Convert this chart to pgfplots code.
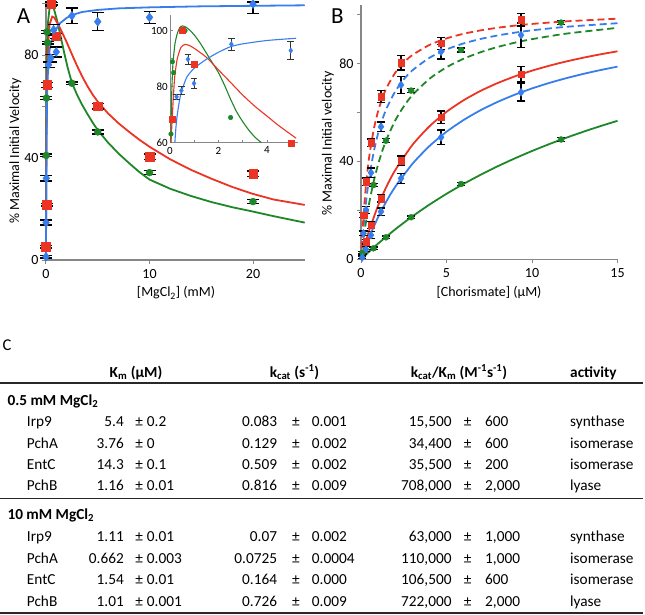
\documentclass[border=0pt]{standalone}
\usepackage{fontspec}
\setmainfont{Carlito}
\usepackage{pgfplots}
\pgfplotsset{compat=1.18}
\definecolor{cred}{RGB}{236,52,36}
\definecolor{cgreen}{RGB}{30,135,40}
\definecolor{cblue}{RGB}{55,125,235}
\definecolor{axgray}{RGB}{135,135,135}
\definecolor{rulec}{RGB}{40,40,40}

\pgfplotsset{
  panel/.style={
    scale only axis, axis x line*=bottom, axis y line*=left,
    axis line style={draw=axgray, line width=1.3pt},
    tick style={draw=axgray, line width=1pt},
    major tick length=4pt, tick align=outside,
    tick label style={font=\fontsize{14}{16}\selectfont},
    /pgf/number format/assume math mode=true,
    clip=false,
  },
  ebA/.style={error bars/y dir=both, error bars/y explicit,
    error bars/error bar style={black, line width=1.4pt},
    error bars/error mark options={rotate=90, black, line width=1.4pt, mark size=6pt}},
  ebB/.style={error bars/y dir=both, error bars/y explicit,
    error bars/error bar style={black, line width=1.3pt},
    error bars/error mark options={rotate=90, black, line width=1.3pt, mark size=4.2pt}},
  ebI/.style={error bars/y dir=both, error bars/y explicit,
    error bars/error bar style={black!80, line width=0.8pt},
    error bars/error mark options={rotate=90, black!80, line width=0.8pt, mark size=3.3pt}},
}
\tikzset{tt/.style={font=\fontsize{15.3}{18}\selectfont, inner sep=0pt}}
\newcommand{\trow}[9]{%
 \node[tt, anchor=base west] at (26.7,-#1) {#2};
 \node[tt, anchor=base east] at (124,-#1) {#3};
 \node[tt, anchor=base] at (139.3,-#1) {±};
 \node[tt, anchor=base west] at (146.7,-#1) {#4};
 \node[tt, anchor=base east] at (277.3,-#1) {#5};
 \node[tt, anchor=base] at (296,-#1) {±};
 \node[tt, anchor=base west] at (311.7,-#1) {#6};
 \node[tt, anchor=base east] at (451.7,-#1) {#7};
 \node[tt, anchor=base] at (467.7,-#1) {±};
 \node[tt, anchor=base west] at (485,-#1) {#8};
 \node[tt, anchor=base west] at (570,-#1) {#9};
}

\begin{document}
\begin{tikzpicture}[x=1pt,y=1pt]
\useasboundingbox (0,0) rectangle (645,-614);

% ---------------- Panel A ----------------
\begin{axis}[panel, at={(46pt,-260pt)}, anchor=south west,
  width=258.75pt, height=258.8pt,
  xmin=0, xmax=25, ymin=0, ymax=101,
  xtick={0,10,20}, ytick={0,20,...,100}, yticklabels={0,,40,,80,},
  xticklabel style={yshift=-2pt}]
\addplot[cgreen, line width=1.8pt] coordinates {(0,0)(0.02,40)(0.05,65)(0.1,82)(0.2,93)(0.35,98.5)(0.55,99.8)(0.8,97.5)(1.1,93)(1.35,88.5)(1.75,81)(2.1,75)(2.5,69.2)(3,64.5)(3.5,60.5)(4,57)(4.5,53.7)(5,50.7)(6,45.8)(7,41.6)(8,37.9)(9,34.4)(10,31.4)(12,27.8)(14,25)(16,22.6)(18,20.6)(20,18.9)(22,17.1)(25,14.6)};
\addplot[cred, line width=1.8pt] coordinates {(0,0)(0.02,25)(0.05,50)(0.1,68)(0.2,84)(0.35,92)(0.6,95)(0.8,94.6)(1.1,92.5)(1.5,89.3)(2,85)(2.5,80.3)(3,75.8)(3.5,71.6)(4,67.9)(4.5,64.6)(5,61.8)(6,57.2)(7,53.4)(8,50.1)(9,47)(10,44.2)(12,39.3)(14,35.2)(16,31.7)(18,28.5)(20,25.8)(22,23.6)(25,21.5)};
\addplot[cblue, line width=1.8pt] coordinates {(0,0)(0.01,15)(0.03,32)(0.06,50)(0.1,62)(0.15,70)(0.22,76)(0.35,82)(0.5,85)(0.7,87.5)(1,90.2)(1.35,92.4)(2,94.5)(2.5,95.6)(3.5,96.8)(5,97.6)(7,98.2)(10,98.6)(15,99)(20,99.2)(25,99.4)};
\addplot[only marks, mark=*, cgreen, mark size=3.5pt, ebA] table[x=x, y=y, y error=e] {
x y e
0.02 40.8 0.5
0.04 63.2 0.5
0.1 89 0.5
0.15 84.8 0.5
0.5 100 0.5
0.62 100 0.5
2.5 69 0.5
5 50 0.8
10 34.1 0.8
20 22.8 0.8
};
\addplot[only marks, mark=square*, cred, mark size=4.3pt, ebA] table[x=x, y=y, y error=e] {
x y e
0 5.2 0.5
0.05 21.5 0.5
0.1 68.3 1
0.5 100 1
1 87.4 1
5 60 1
10 40.3 1
20 33.7 1
};
\addplot[only marks, mark=diamond*, cblue, mark size=4.5pt, ebA] table[x=x, y=y, y error plus=ep, y error minus=em] {
x y ep em
0 1.3 0.5 0.5
0.01 14.6 1 1
0.03 31.9 1 1
0.25 76.2 1 1
0.47 78.8 1.5 1.5
0.74 89.8 2 2
0.99 81.2 2 2
2.5 95.3 3 3
5 93 3.5 3.5
10 94.7 2.3 2.3
20 99.9 0.8 3.6
};
\end{axis}

% ---------------- Inset ----------------
\begin{axis}[scale only axis, at={(170pt,-142.7pt)}, anchor=south west,
  width=127.8pt, height=127.7pt,
  xmin=0, xmax=5.27, ymin=60, ymax=105.6,
  axis x line*=bottom, axis y line*=left,
  axis line style={draw=axgray, line width=0.9pt},
  tick style={draw=axgray, line width=0.7pt},
  major tick length=3pt, tick align=inside,
  xtick={0,1,...,5}, xticklabels={0,,2,,4,},
  ytick={60,70,...,100}, yticklabels={60,,80,,100},
  tick label style={font=\fontsize{11}{13}\selectfont, inner sep=2pt},
  xticklabel style={yshift=-2pt},
  /pgf/number format/assume math mode=true, clip=false]
\addplot[cgreen, line width=1.1pt, smooth, tension=0.4] coordinates {(0.03,60)(0.05,70)(0.08,80)(0.12,88)(0.2,95)(0.3,99)(0.4,101)(0.5,101.7)(0.65,101.3)(0.8,100.3)(1,98.5)(1.25,95.5)(1.5,92)(1.75,88.5)(2,85)(2.25,80.5)(2.5,75.5)(2.75,71)(3,67.5)(3.25,64.5)(3.5,62)(3.77,60)};
\addplot[cred, line width=1.1pt, smooth, tension=0.4] coordinates {(0.04,60)(0.07,65)(0.1,70)(0.15,78)(0.2,84)(0.3,90)(0.45,94)(0.62,95.1)(0.8,94.7)(1,93.7)(1.5,90.5)(2,86)(2.5,81.5)(3,77)(3.5,73)(4,69.5)(4.5,66)(5.2,61.6)};
\addplot[cblue, line width=1.1pt, smooth, tension=0.4] coordinates {(0.2,60)(0.25,66)(0.3,70)(0.4,75.5)(0.5,79)(0.7,83.5)(1,86.6)(1.5,89.8)(2,92.3)(2.5,94.3)(3,95.3)(4,96.5)(5.2,97.3)};
\addplot[only marks, mark=*, cgreen, mark size=2.3pt] coordinates {(0.04,63.1)(0.1,88.9)(0.15,85)(0.5,100)(0.62,100)(2.5,69)};
\addplot[only marks, mark=square*, cred, mark size=3pt] coordinates {(0.1,68.5)(0.5,100)(1,88)(5,60)};
\addplot[only marks, mark=diamond*, cblue, mark size=2.6pt, ebI] table[x=x, y=y, y error=e] {
x y e
0.27 76.4 0.8
0.47 78.6 1.5
0.74 89.8 1.8
0.99 81.2 1.8
2.53 95.2 2.2
4.98 92.9 3.2
};
\end{axis}

% ---------------- Panel B ----------------
\begin{axis}[panel, at={(361pt,-259.3pt)}, anchor=south west,
  width=256.5pt, height=254.3pt,
  xmin=0, xmax=15, ymin=0, ymax=104,
  xtick={0,5,10,15}, ytick={0,20,...,100}, yticklabels={0,,40,,80,},
  xticklabel style={yshift=-2pt}]
\addplot[cgreen, line width=1.8pt, smooth, tension=0.4] coordinates {(0,0)(0.5,3.3)(1,6.43)(2,12.25)(3,17.53)(4,22.36)(5,26.78)(6,30.84)(7,34.59)(8,38.07)(9,41.29)(10,44.29)(11,47.09)(12,49.71)(13,52.16)(14,54.47)(15,56.64)};
\addplot[cblue, line width=1.8pt, smooth, tension=0.4] coordinates {(0,0)(0.25,4.91)(0.5,9.38)(1,17.23)(1.5,23.9)(2,29.64)(3,38.99)(4,46.3)(5,52.17)(6,56.98)(7,61)(8,64.41)(9,67.34)(10,69.88)(11,72.11)(12,74.07)(13,75.82)(14,77.39)(15,78.8)};
\addplot[cred, line width=1.8pt, smooth, tension=0.4] coordinates {(0,0)(0.25,6.49)(0.5,12.24)(1,21.97)(1.5,29.89)(2,36.46)(3,46.72)(4,54.38)(5,60.32)(6,65.05)(7,68.91)(8,72.11)(9,74.83)(10,77.15)(11,79.15)(12,80.91)(13,82.45)(14,83.83)(15,85.06)};
\addplot[cgreen, line width=1.8pt, dash pattern=on 7pt off 4pt, smooth, tension=0.4] coordinates {(0,0)(0.1,5.81)(0.2,11.01)(0.3,15.69)(0.5,23.79)(0.75,32.07)(1,38.83)(1.25,44.45)(1.5,49.19)(2,56.77)(2.5,62.54)(3,67.1)(4,73.81)(5,78.53)(6,82.03)(7,84.72)(8,86.86)(9,88.6)(10,90.04)(12,92.29)(15,94.66)};
\addplot[cblue, line width=1.8pt, dash pattern=on 7pt off 4pt, smooth, tension=0.4] coordinates {(0,0)(0.05,4.9)(0.1,9.36)(0.2,17.17)(0.3,23.77)(0.4,29.43)(0.5,34.33)(0.75,44.14)(1,51.5)(1.25,57.22)(1.5,61.8)(2,68.67)(2.5,73.57)(3,77.25)(4,82.4)(5,85.83)(6,88.29)(7,90.13)(8,91.56)(9,92.7)(10,93.64)(12,95.08)(15,96.56)};
\addplot[cred, line width=1.8pt, dash pattern=on 7pt off 4pt, smooth, tension=0.4] coordinates {(0,0)(0.05,6.87)(0.1,12.88)(0.2,22.89)(0.3,30.9)(0.4,37.45)(0.5,42.92)(0.75,53.28)(1,60.59)(1.25,66.03)(1.5,70.23)(2,76.3)(2.5,80.47)(3,83.51)(4,87.66)(5,90.35)(6,92.24)(7,93.64)(8,94.71)(9,95.57)(10,96.26)(12,97.32)(15,98.41)};
% green points
\addplot[only marks, mark=*, cgreen, mark size=3pt, ebB] table[x=x, y=y, y error=e] {
x y e
0.73 4.5 0.5
1.46 9.0 0.5
2.93 17.2 0.5
5.85 30.8 0.5
11.7 49.0 0.7
};
\addplot[only marks, mark=*, cgreen, mark size=3pt, ebB] table[x=x, y=y, y error=e] {
x y e
0.09 2.7 0.5
0.73 30.4 0.7
1.46 48.5 0.8
2.93 69.0 0.8
5.85 85.6 0.8
11.7 96.8 0.8
};
% blue points
\addplot[only marks, mark=diamond*, cblue, mark size=4pt, ebB] table[x=x, y=y, y error=e] {
x y e
0.073 0.8 0.5
0.293 4.1 1
0.585 9.9 1.5
1.17 19.5 1.5
2.34 33.1 2
4.68 49.9 3
9.36 68.3 3.5
};
\addplot[only marks, mark=diamond*, cblue, mark size=4pt, ebB] table[x=x, y=y, y error=e] {
x y e
0.146 10.6 1
0.293 20.2 1.5
0.585 35.4 2
1.17 54.2 2
2.34 71.3 3.5
4.68 84.9 3
9.36 91.7 5
};
% red points
\addplot[only marks, mark=square*, cred, mark size=3.3pt, ebB] table[x=x, y=y, y error=e] {
x y e
0.293 7.2 1
0.585 14.0 1.5
1.17 24.9 1.5
2.34 40.3 2
4.68 58.1 2.5
9.36 75.7 3.2
};
\addplot[only marks, mark=square*, cred, mark size=3.3pt, ebB] table[x=x, y=y, y error=e] {
x y e
0.146 18.1 1
0.293 31.7 1.5
0.585 47.7 1.5
1.17 66.5 2.5
2.34 80.4 3
4.68 88.3 2.5
9.36 97.9 2.5
};
\end{axis}

% ---------------- labels ----------------
\node[font=\fontsize{23}{26}\selectfont, inner sep=0pt] at (23.5,-15.8) {A};
\node[font=\fontsize{23}{26}\selectfont, inner sep=0pt] at (337.5,-15.8) {B};
\node[font=\fontsize{16.5}{19}\selectfont, inner sep=0pt] at (7,-345.5) {C};
\node[rotate=90, font=\fontsize{14}{16}\selectfont] at (15.3,-151) {\% Maximal Initial Velocity};
\node[rotate=90, font=\fontsize{14}{16}\selectfont] at (328,-143.5) {\% Maximal Initial velocity};
\node[font=\fontsize{14}{16}\selectfont] at (176,-293) {[MgCl\textsubscript{2}] (mM)};
\node[font=\fontsize{14}{16}\selectfont] at (489,-293) {[Chorismate] (µM)};

% ---------------- Table C ----------------
\node[tt, anchor=base] at (136,-377) {\bfseries K\textsubscript{m} (µM)};
\node[tt, anchor=base] at (294.5,-377) {\bfseries k\textsubscript{cat} (s\textsuperscript{-1})};
\node[tt, anchor=base] at (459,-377) {\bfseries k\textsubscript{cat}/K\textsubscript{m} (M\textsuperscript{-1}s\textsuperscript{-1})};
\node[tt, anchor=base west] at (570,-377) {\bfseries activity};
\draw[rulec, line width=1.8pt] (0,-382.7) -- (643,-382.7);
\node[tt, anchor=base west] at (7.3,-405) {\bfseries 0.5 mM MgCl\textsubscript{2}};
\trow{426.5}{Irp9}{5.4}{0.2}{0.083}{0.001}{15,500}{600}{synthase}
\trow{448}{PchA}{3.76}{0}{0.129}{0.002}{34,400}{600}{isomerase}
\trow{469.8}{EntC}{14.3}{0.1}{0.509}{0.002}{35,500}{200}{isomerase}
\trow{490.5}{PchB}{1.16}{0.01}{0.816}{0.009}{708,000}{2,000}{lyase}
\draw[rulec, line width=1.3pt] (0,-498.3) -- (643,-498.3);
\node[tt, anchor=base west] at (7.3,-519.8) {\bfseries 10 mM MgCl\textsubscript{2}};
\trow{541.5}{Irp9}{1.11}{0.01}{0.07}{0.002}{63,000}{1,000}{synthase}
\trow{563}{PchA}{0.662}{0.003}{0.0725}{0.0004}{110,000}{1,000}{isomerase}
\trow{584.8}{EntC}{1.54}{0.01}{0.164}{0.000}{106,500}{600}{isomerase}
\trow{606.5}{PchB}{1.01}{0.001}{0.726}{0.009}{722,000}{2,000}{lyase}
\draw[rulec, line width=2.4pt] (0,-612.7) -- (643,-612.7);
\end{tikzpicture}
\end{document}
